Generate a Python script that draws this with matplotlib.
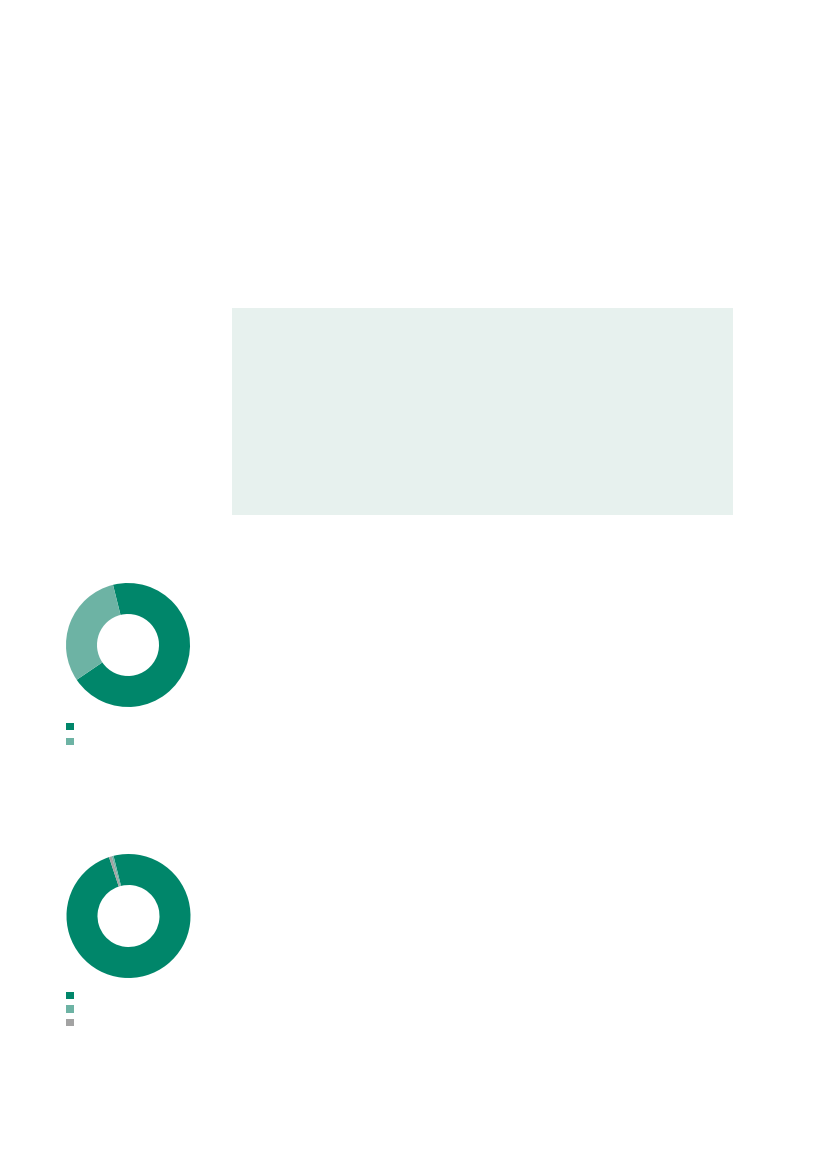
import matplotlib
matplotlib.use("Agg")
import matplotlib.pyplot as plt
from matplotlib.patches import Patch, Rectangle

W, H = 827, 1169

DARK = "#00866a"
LIGHT = "#6db3a4"
GREY = "#a3a3a3"
BOX = "#e7f1ee"

# donut 1: two categories
donut1_values = [69.4, 30.6]
donut1_colors = [DARK, LIGHT]

# donut 2: wedges in drawing order (dark, grey, light), legend order differs
donut2_values = [98.8, 0.75, 0.45]
donut2_colors = [DARK, GREY, LIGHT]
donut2_legend = [DARK, LIGHT, GREY]


def px_axes(fig, x0, y0, x1, y1):
    # pixel box (top-left origin) -> figure axes
    return fig.add_axes([x0 / W, 1 - y1 / H, (x1 - x0) / W, (y1 - y0) / H])


def donut(ax, values, colors):
    ax.pie(values, colors=colors, startangle=104, counterclock=False,
           radius=1.0, wedgeprops=dict(width=0.5, linewidth=0))
    ax.set_xlim(-1, 1)
    ax.set_ylim(-1, 1)
    ax.set_aspect("equal")
    ax.axis("off")


def squares(fig, colors, x, y, spacing):
    handles = [Patch(facecolor=c, edgecolor="none") for c in colors]
    fig.legend(handles, [" "] * len(colors), loc="upper left",
               bbox_to_anchor=(x / W, 1 - y / H), frameon=False,
               fontsize=6, handlelength=0.95, handleheight=0.95,
               handletextpad=0.2, borderpad=0, borderaxespad=0,
               labelspacing=spacing)


fig = plt.figure(figsize=(W / 100, H / 100), dpi=100)
fig.patch.set_facecolor("white")

# shaded text box
bg = fig.add_axes([0, 0, 1, 1], zorder=-1)
bg.set_xlim(0, W)
bg.set_ylim(H, 0)
bg.axis("off")
bg.add_patch(Rectangle((232, 308), 501, 207, facecolor=BOX, edgecolor="none"))

ax1 = px_axes(fig, 66, 583, 190, 707)
donut(ax1, donut1_values, donut1_colors)
squares(fig, donut1_colors, 65.8, 722.5, 0.72)

ax2 = px_axes(fig, 66.5, 854, 190.5, 978)
donut(ax2, donut2_values, donut2_colors)
squares(fig, donut2_legend, 65.8, 991.2, 0.55)

fig.savefig("out.png", dpi=100)
